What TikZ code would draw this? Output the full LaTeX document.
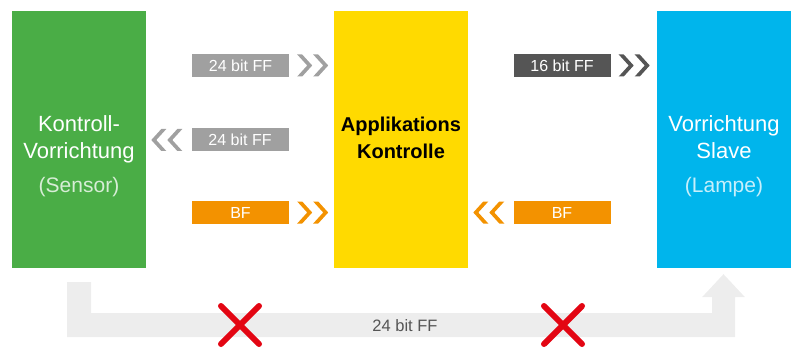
\documentclass[tikz,border=0pt]{standalone}
\usepackage{fontspec}
\setmainfont{Liberation Sans}
\usepackage{tikz}
\usetikzlibrary{positioning, calc}

\definecolor{ctrlgreen}{RGB}{74,173,70}
\definecolor{appyellow}{RGB}{255,218,0}
\definecolor{slaveblue}{RGB}{0,181,236}
\definecolor{framegray}{RGB}{160,160,160}
\definecolor{framedark}{RGB}{85,85,85}
\definecolor{bforange}{RGB}{243,146,0}
\definecolor{busgray}{RGB}{237,237,237}
\definecolor{blockred}{RGB}{227,6,19}

\begin{document}
\begin{tikzpicture}[
    x=1pt, y=-1pt,
    block/.style={rectangle, minimum width=134pt, minimum height=257pt, inner sep=0pt},
    blocktext/.style={align=center, font=\fontsize{22}{27}\selectfont},
    flag/.style={rectangle, minimum width=97pt, minimum height=23pt, inner sep=0pt,
                 text=white, font=\fontsize{16}{18}\selectfont},
    nogo/.style={draw=blockred, line width=6pt, line cap=round},
    fwd/.pic={
        \fill (0,-11) -- (5,-11) -- (15,0) -- (5,11) -- (0,11) -- (10,0) -- cycle;
        \fill (16,-11) -- (21,-11) -- (31,0) -- (21,11) -- (16,11) -- (26,0) -- cycle;
    },
    bwd/.pic={
        \fill (0,-11) -- (-5,-11) -- (-15,0) -- (-5,11) -- (0,11) -- (-10,0) -- cycle;
        \fill (-16,-11) -- (-21,-11) -- (-31,0) -- (-21,11) -- (-16,11) -- (-26,0) -- cycle;
    }
]
\useasboundingbox (0,0) rectangle (795,350);

% the three units
\node[block, fill=ctrlgreen] (sensor) at (79,139.5) {};
\node[block, fill=appyellow] (app) at (401,139.5) {};
\node[block, fill=slaveblue] (lamp) at (724,139.5) {};

\node[blocktext, text=white] (sensortext) at (79,156)
    {Kontroll-\\Vorrichtung\\[7pt]{\fontsize{21}{27}\selectfont\color{white!78!ctrlgreen}(Sensor)}};
\node[blocktext, font=\fontsize{20}{27}\selectfont\bfseries] (apptext) at (401,138)
    {Applikations\\Kontrolle};
\node[blocktext, text=white] (lamptext) at (724,156)
    {Vorrichtung\\Slave\\[7pt]{\fontsize{21}{27}\selectfont\color{white!78!slaveblue}(Lampe)}};

% frames between sensor and application
\node[flag, fill=framegray] (ffin) at (240.5,65.5) {24 bit FF};
\node[flag, fill=framegray] (ffback) at (240,140) {24 bit FF};
\node[flag, fill=bforange] (bfin) at (240.5,212.5) {BF};
\pic[color=framegray] at ($(ffin.east)+(8,0)$) {fwd};
\pic[color=framegray] at ($(ffback.west)+(-9,0)$) {bwd};
\pic[color=bforange] at ($(bfin.east)+(8,0)$) {fwd};

% frames between application and slave
\node[flag, fill=framedark] (ffout) at (562,65.5) {16 bit FF};
\node[flag, fill=bforange] (bfback) at (562,212.5) {BF};
\pic[color=framedark] at ($(ffout.east)+(8,0)$) {fwd};
\pic[color=bforange] at ($(bfback.west)+(-9,0)$) {bwd};

% direct path (not allowed)
\path (sensor.south) ++(0,14) coordinate (busstart);
\path (lamp.south) ++(-0.5,6) coordinate (bustip);
\fill[busgray] ($(busstart)+(-12,0)$) -- ($(busstart)+(12,0)$) -- ($(busstart)+(12,31)$)
    -- ($(bustip)+(-11.5,39)$) -- ($(bustip)+(-11.5,23)$) -- ($(bustip)+(-21.5,23)$)
    -- (bustip) -- ($(bustip)+(21.5,23)$) -- ($(bustip)+(11.5,23)$)
    -- ($(bustip)+(11.5,63)$) -- ($(busstart)+(-12,55)$) -- cycle;
\node[text=framedark, font=\fontsize{16.5}{18}\selectfont] (bustext) at (405,326) {24 bit FF};

\coordinate (stopa) at (240,325);
\coordinate (stopb) at (563,325);
\draw[nogo] ($(stopa)+(-19,-19)$) -- ($(stopa)+(19,19)$);
\draw[nogo] ($(stopa)+(-19,19)$) -- ($(stopa)+(19,-19)$);
\draw[nogo] ($(stopb)+(-19,-19)$) -- ($(stopb)+(19,19)$);
\draw[nogo] ($(stopb)+(-19,19)$) -- ($(stopb)+(19,-19)$);
\end{tikzpicture}
\end{document}
